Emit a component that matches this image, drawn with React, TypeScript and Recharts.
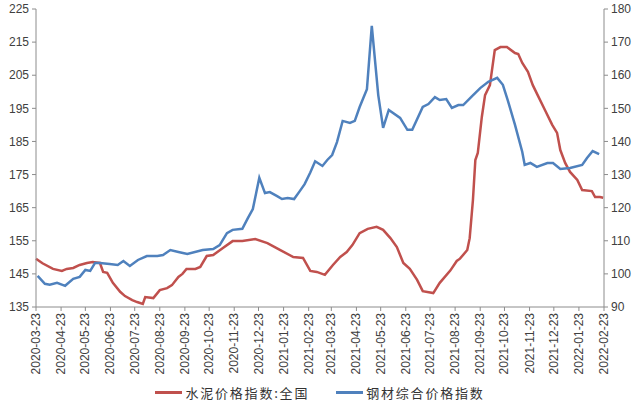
import { LineChart, Line, XAxis, YAxis, Legend } from "recharts"

// 水泥价格指数:全国 (left axis)
const cementDates = [
  "2020-03-23", "2020-03-31", "2020-04-13", "2020-04-24", "2020-04-30", "2020-05-08",
  "2020-05-16", "2020-05-25", "2020-06-01", "2020-06-10", "2020-06-14", "2020-06-19",
  "2020-06-26", "2020-07-05", "2020-07-11", "2020-07-20", "2020-07-26", "2020-08-02",
  "2020-08-05", "2020-08-15", "2020-08-23", "2020-09-01", "2020-09-07", "2020-09-15",
  "2020-09-20", "2020-09-25", "2020-10-06", "2020-10-12", "2020-10-20", "2020-10-28",
  "2020-11-09", "2020-11-21", "2020-12-03", "2020-12-19", "2021-01-03", "2021-01-19",
  "2021-02-04", "2021-02-16", "2021-02-25", "2021-03-05", "2021-03-15", "2021-03-25",
  "2021-04-03", "2021-04-11", "2021-04-18", "2021-04-27", "2021-05-07", "2021-05-18",
  "2021-05-26", "2021-06-04", "2021-06-12", "2021-06-20", "2021-06-28", "2021-07-07",
  "2021-07-14", "2021-07-27", "2021-08-04", "2021-08-17", "2021-08-25", "2021-08-29",
  "2021-09-07", "2021-09-10", "2021-09-14", "2021-09-17", "2021-09-20", "2021-09-25",
  "2021-09-29", "2021-10-05", "2021-10-11", "2021-10-18", "2021-10-26", "2021-11-05",
  "2021-11-09", "2021-11-14", "2021-11-21", "2021-11-27", "2021-12-03", "2021-12-12",
  "2021-12-21", "2021-12-27", "2021-12-31", "2022-01-06", "2022-01-12", "2022-01-21",
  "2022-01-27", "2022-02-08", "2022-02-12", "2022-02-18", "2022-02-22",
]
const cementValues = [
  149.6, 148.2, 146.5, 145.9, 146.5, 146.8,
  147.7, 148.3, 148.6, 148.3, 145.6, 145.3,
  142.3, 139.6, 138.3, 137.1, 136.5, 135.9,
  138.0, 137.7, 140.1, 140.7, 141.6, 144.1,
  145.0, 146.5, 146.5, 147.1, 150.4, 150.7,
  152.8, 154.9, 154.9, 155.5, 154.3, 152.2,
  150.1, 149.8, 145.9, 145.6, 144.7, 147.7,
  150.1, 151.6, 153.7, 157.3, 158.6, 159.2,
  158.3, 155.8, 153.1, 148.3, 146.5, 143.2,
  139.8, 139.2, 142.3, 146.0, 148.9, 149.6,
  152.2, 155.8, 167.3, 179.4, 181.5, 192.4,
  199.0, 202.0, 212.6, 213.5, 213.5, 211.7,
  211.4, 208.7, 206.0, 202.0, 199.0, 194.5,
  190.0, 187.6, 182.4, 178.5, 175.8, 173.4,
  170.3, 170.0, 168.2, 168.2, 168.0,
]

// 钢材综合价格指数 (right axis)
const steelDates = [
  "2020-03-25", "2020-04-03", "2020-04-09", "2020-04-18", "2020-04-28", "2020-05-08",
  "2020-05-16", "2020-05-23", "2020-05-29", "2020-06-04", "2020-06-10", "2020-06-22",
  "2020-07-02", "2020-07-09", "2020-07-17", "2020-07-27", "2020-08-07", "2020-08-20",
  "2020-08-27", "2020-09-05", "2020-09-15", "2020-09-26", "2020-10-15", "2020-10-28",
  "2020-11-05", "2020-11-14", "2020-11-21", "2020-12-03", "2020-12-10", "2020-12-16",
  "2020-12-24", "2020-12-31", "2021-01-06", "2021-01-15", "2021-01-21", "2021-01-28",
  "2021-02-05", "2021-02-12", "2021-02-18", "2021-02-25", "2021-03-03", "2021-03-12",
  "2021-03-18", "2021-03-24", "2021-03-30", "2021-04-06", "2021-04-15", "2021-04-21",
  "2021-04-27", "2021-05-06", "2021-05-12", "2021-05-20", "2021-05-26", "2021-06-02",
  "2021-06-16", "2021-06-25", "2021-07-01", "2021-07-14", "2021-07-21", "2021-07-29",
  "2021-08-04", "2021-08-12", "2021-08-19", "2021-08-27", "2021-09-02", "2021-09-13",
  "2021-09-23", "2021-10-03", "2021-10-14", "2021-10-21", "2021-10-27", "2021-11-05",
  "2021-11-14", "2021-11-17", "2021-11-24", "2021-12-02", "2021-12-15", "2021-12-22",
  "2021-12-31", "2022-01-12", "2022-01-27", "2022-02-02", "2022-02-09", "2022-02-17",
]
const steelValues = [
  99.4, 97.0, 96.7, 97.3, 96.4, 98.5,
  99.1, 101.2, 100.9, 103.3, 103.3, 103.0,
  102.7, 103.9, 102.4, 104.2, 105.4, 105.4,
  105.7, 107.2, 106.6, 106.0, 107.2, 107.5,
  108.7, 112.3, 113.3, 113.6, 116.9, 119.6,
  129.0, 124.4, 124.7, 123.5, 122.6, 122.9,
  122.6, 125.0, 127.1, 130.6, 134.0, 132.6,
  134.4, 135.9, 139.8, 146.2, 145.6, 146.2,
  150.4, 155.8, 174.9, 154.0, 144.1, 149.5,
  147.1, 143.5, 143.5, 150.4, 151.3, 153.4,
  152.5, 152.8, 150.1, 151.0, 151.0, 153.7,
  156.1, 158.0, 159.2, 157.1, 152.5, 145.0,
  136.8, 132.9, 133.5, 132.3, 133.5, 133.5,
  131.7, 132.0, 132.9, 135.0, 137.1, 136.2,
]

const tickDates = [
  "2020-03-23", "2020-04-23", "2020-05-23", "2020-06-23", "2020-07-23", "2020-08-23",
  "2020-09-23", "2020-10-23", "2020-11-23", "2020-12-23", "2021-01-23", "2021-02-23",
  "2021-03-23", "2021-04-23", "2021-05-23", "2021-06-23", "2021-07-23", "2021-08-23",
  "2021-09-23", "2021-10-23", "2021-11-23", "2021-12-23", "2022-01-23", "2022-02-23",
]
const leftTicks = [135, 145, 155, 165, 175, 185, 195, 205, 215, 225]
const rightTicks = [90, 100, 110, 120, 130, 140, 150, 160, 170, 180]

const start = Date.parse(tickDates[0])
const toDay = (d: string) => Math.round((Date.parse(d) - start) / 86400000)

const cementData = cementDates.map((d, i) => ({ day: toDay(d), value: cementValues[i] }))
const steelData = steelDates.map((d, i) => ({ day: toDay(d), value: steelValues[i] }))
const tickDays = tickDates.map(toDay)
const labelByDay = new Map(tickDays.map((d, i) => [d, tickDates[i]]))

const RED = "#C0504D"
const BLUE = "#4F81BD"
const AXIS = "#8c8c8c"
const TEXT = "#404040"
const FONT = "'Liberation Sans', Arial, sans-serif"

const DateTick = (props: any) => {
  const { x, y, payload } = props
  return (
    <text
      x={x}
      y={y}
      dy={4}
      transform={`rotate(-90, ${x}, ${y})`}
      textAnchor="end"
      fill={TEXT}
      fontSize={12}
      fontFamily={FONT}
    >
      {labelByDay.get(payload.value)}
    </text>
  )
}

const LegendContent = () => {
  const items = [
    { name: "水泥价格指数:全国", color: RED },
    { name: "钢材综合价格指数", color: BLUE },
  ]
  return (
    <div
      style={{
        display: "flex",
        justifyContent: "center",
        gap: 27,
        fontFamily: "'Noto Sans CJK SC', sans-serif",
        fontSize: 13,
        letterSpacing: 1.8,
        color: "#333",
        paddingTop: 2,
      }}
    >
      {items.map((it) => (
        <div key={it.name} style={{ display: "flex", alignItems: "center" }}>
          <span style={{ display: "inline-block", width: 27, height: 3, background: it.color, marginRight: 3 }} />
          <span>{it.name}</span>
        </div>
      ))}
    </div>
  )
}

export default function App() {
  return (
    <div style={{ position: "absolute", left: 0, top: 0, background: "#fff" }}>
      <LineChart width={640} height={405} margin={{ top: 9, right: 0, bottom: 4, left: 0 }}>
        <XAxis
          xAxisId="x"
          type="number"
          dataKey="day"
          domain={[0, tickDays[tickDays.length - 1]]}
          ticks={tickDays}
          interval={0}
          height={74}
          stroke={AXIS}
          tickSize={4}
          tickMargin={2}
          tick={<DateTick />}
        />
        <YAxis
          yAxisId="left"
          domain={[135, 225]}
          ticks={leftTicks}
          width={36}
          stroke={AXIS}
          tickSize={4}
          tickMargin={3}
          tick={{ fill: TEXT, fontSize: 12, fontFamily: FONT }}
          interval={0}
        />
        <YAxis
          yAxisId="right"
          orientation="right"
          domain={[90, 180]}
          ticks={rightTicks}
          width={36}
          stroke={AXIS}
          tickSize={4}
          tickMargin={3}
          tick={{ fill: TEXT, fontSize: 12, fontFamily: FONT }}
          interval={0}
        />
        <Legend verticalAlign="bottom" height={20} content={<LegendContent />} />
        <Line
          xAxisId="x"
          yAxisId="left"
          data={cementData}
          dataKey="value"
          name="水泥价格指数:全国"
          stroke={RED}
          strokeWidth={2.5}
          dot={false}
          type="linear"
          isAnimationActive={false}
        />
        <Line
          xAxisId="x"
          yAxisId="right"
          data={steelData}
          dataKey="value"
          name="钢材综合价格指数"
          stroke={BLUE}
          strokeWidth={2.5}
          dot={false}
          type="linear"
          isAnimationActive={false}
        />
      </LineChart>
    </div>
  )
}
